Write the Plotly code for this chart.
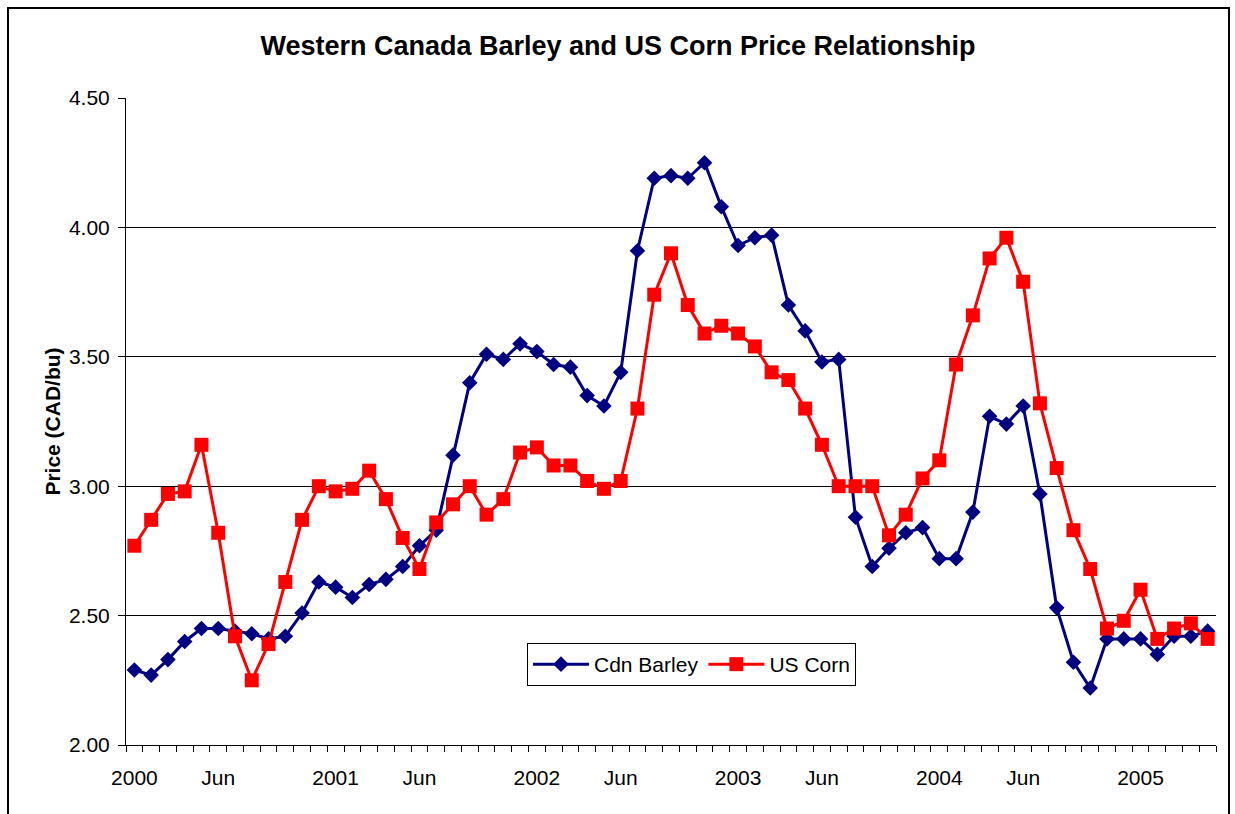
import plotly.graph_objects as go

# Monthly, Jan 2000 .. May 2005
barley = [2.29, 2.27, 2.33, 2.40, 2.45, 2.45, 2.44, 2.43, 2.41, 2.42, 2.51, 2.63,
          2.61, 2.57, 2.62, 2.64, 2.69, 2.77, 2.83, 3.12, 3.40, 3.51, 3.49, 3.55,
          3.52, 3.47, 3.46, 3.35, 3.31, 3.44, 3.91, 4.19, 4.20, 4.19, 4.25, 4.08,
          3.93, 3.96, 3.97, 3.70, 3.60, 3.48, 3.49, 2.88, 2.69, 2.76, 2.82, 2.84,
          2.72, 2.72, 2.90, 3.27, 3.24, 3.31, 2.97, 2.53, 2.32, 2.22, 2.41, 2.41,
          2.41, 2.35, 2.42, 2.42, 2.44]
corn = [2.77, 2.87, 2.97, 2.98, 3.16, 2.82, 2.42, 2.25, 2.39, 2.63, 2.87, 3.00,
        2.98, 2.99, 3.06, 2.95, 2.80, 2.68, 2.86, 2.93, 3.00, 2.89, 2.95, 3.13,
        3.15, 3.08, 3.08, 3.02, 2.99, 3.02, 3.30, 3.74, 3.90, 3.70, 3.59, 3.62,
        3.59, 3.54, 3.44, 3.41, 3.30, 3.16, 3.00, 3.00, 3.00, 2.81, 2.89, 3.03,
        3.10, 3.47, 3.66, 3.88, 3.96, 3.79, 3.32, 3.07, 2.83, 2.68, 2.45, 2.48,
        2.60, 2.41, 2.45, 2.47, 2.41]
months = list(range(len(barley)))
tick_positions = [0, 5, 12, 17, 24, 29, 36, 41, 48, 53, 60]
tick_labels = ["2000", "Jun", "2001", "Jun", "2002", "Jun", "2003", "Jun", "2004", "Jun", "2005"]

FONT = "Liberation Sans, Arial, sans-serif"

fig = go.Figure()
fig.add_trace(go.Scatter(
    x=months, y=barley, name="Cdn Barley", mode="lines+markers",
    line=dict(color="#000080", width=3),
    marker=dict(symbol="diamond", size=12, color="#000080"),
))
fig.add_trace(go.Scatter(
    x=months, y=corn, name="US Corn", mode="lines+markers",
    line=dict(color="#FF0000", width=3),
    marker=dict(symbol="square", size=14, color="#FF0000"),
))

fig.update_layout(
    width=1235, height=814,
    margin=dict(l=126, r=19, t=98, b=69),
    paper_bgcolor="white", plot_bgcolor="white",
    font=dict(family=FONT, color="black", size=21),
    title=dict(text="<b>Western Canada Barley and US Corn Price Relationship</b>",
               x=618 / 1235, xanchor="center", y=1 - 46 / 814, yanchor="middle",
               font=dict(size=27, family=FONT, color="black")),
    showlegend=True,
    legend=dict(orientation="h", x=(527 - 126) / 1090, xanchor="left",
                y=(745 - 643) / 647, yanchor="top",
                bordercolor="black", borderwidth=1, bgcolor="white",
                font=dict(size=21, family=FONT, color="black"),
                itemwidth=56, tracegroupgap=0),
    shapes=[dict(type="rect", xref="paper", yref="paper",
                 x0=(8 - 126) / 1090, x1=(1229 - 126) / 1090,
                 y0=(745 - 830) / 647, y1=(745 - 8) / 647,
                 line=dict(color="black", width=2), fillcolor="rgba(0,0,0,0)",
                 layer="below")],
)

fig.update_xaxes(
    range=[-0.5, len(barley) - 0.5],
    tickmode="array", tickvals=tick_positions, ticktext=tick_labels,
    ticks="", showgrid=False, zeroline=False,
    showline=True, linecolor="black", linewidth=1,
    tickfont=dict(size=21, family=FONT, color="black"),
    ticklabelstandoff=14,
    minor=dict(tickmode="linear", tick0=-0.5, dtick=1, ticks="outside",
               ticklen=6, tickcolor="black", tickwidth=1, showgrid=False),
)
fig.update_yaxes(
    range=[2.0, 4.5], dtick=0.5, tick0=2.0, tickformat=".2f",
    ticks="outside", ticklen=7, tickcolor="black", tickwidth=1,
    showgrid=True, gridcolor="black", gridwidth=1,
    zeroline=False, showline=True, linecolor="black", linewidth=1,
    tickfont=dict(size=21, family=FONT, color="black"),
    ticklabelstandoff=4,
    title=dict(text="<b>Price (CAD/bu)</b>", font=dict(size=21, family=FONT, color="black"),
               standoff=2),
)

fig.write_html("out.html", config={"displayModeBar": False},
               post_script="document.body.style.margin='0px';")
